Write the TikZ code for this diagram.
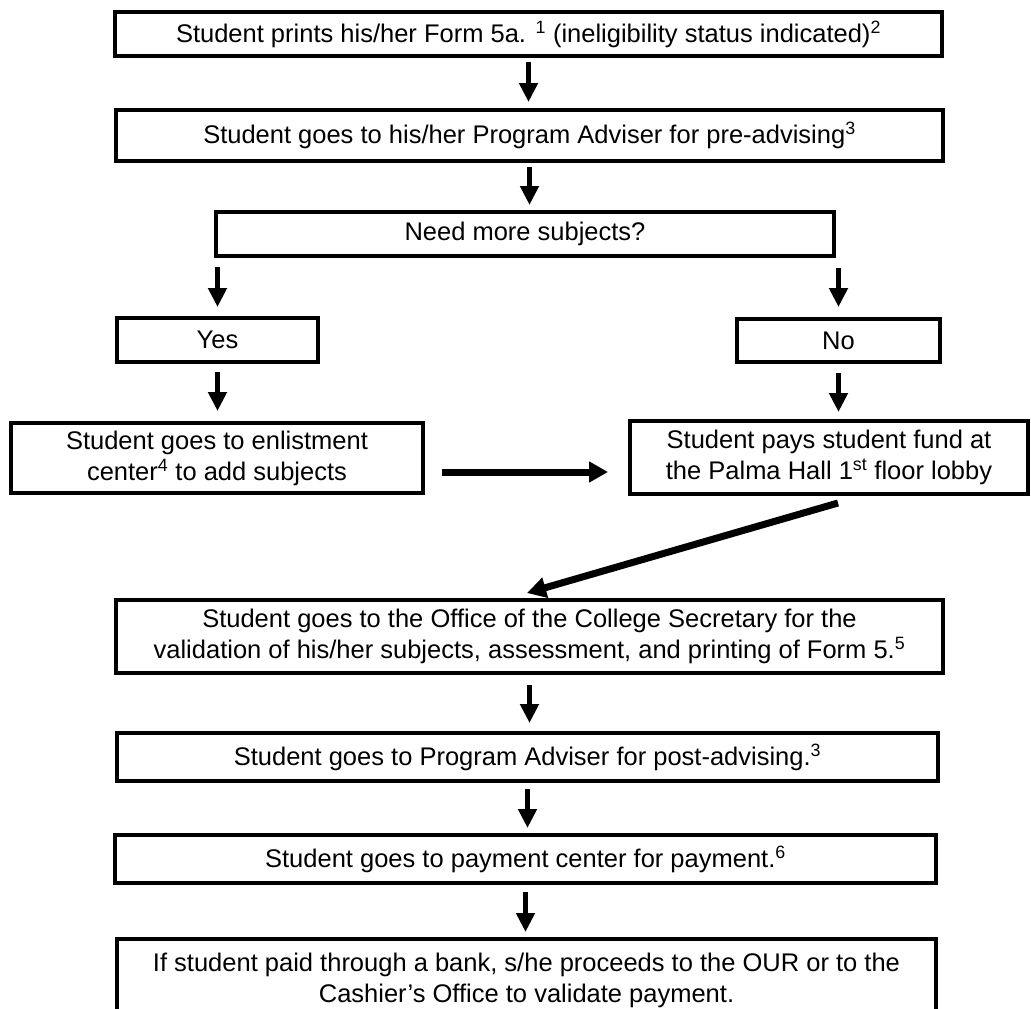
\documentclass[tikz,border=0pt]{standalone}
\usepackage{fontspec}
\setmainfont{Liberation Sans}
\usetikzlibrary{arrows.meta}
\begin{document}
\begin{tikzpicture}[x=1pt,y=-1pt,
  stepbox/.style={draw=black, line width=4pt, inner sep=0pt, align=center,
    font=\fontsize{25.5}{31}\selectfont},
  flow/.style={-{Triangle[length=19pt,width=18pt]}, line width=5pt},
  bigflow/.style={-{Triangle[length=19pt,width=20pt]}, line width=7pt}]
\path[use as bounding box] (0,0) rectangle (1031,1009);
\begin{scope}
\clip (0,0) rectangle (1031,1009);

% process steps
\node[stepbox, minimum width=827pt, minimum height=44pt] (b1) at (528.5,34)
  {Student prints his/her Form 5a. \textsuperscript{1} (ineligibility status indicated)\textsuperscript{2}};
\node[stepbox, minimum width=827pt, minimum height=51pt] (b2) at (529.5,135.5)
  {Student goes to his/her Program Adviser for pre-advising\textsuperscript{3}};
\node[stepbox, minimum width=618pt, minimum height=44pt] (need) at (525,234)
  {Need more subjects?};
\node[stepbox, minimum width=201pt, minimum height=44pt] (yes) at (217.5,340) {Yes};
\node[stepbox, minimum width=203pt, minimum height=43pt] (no) at (838.5,340.5) {No};
\node[stepbox, minimum width=412pt, minimum height=70pt] (enl) at (217,458)
  {Student goes to enlistment\\center\textsuperscript{4} to add subjects};
\node[stepbox, minimum width=398pt, minimum height=73pt] (pays) at (829,457.5)
  {Student pays student fund at\\the Palma Hall 1\textsuperscript{st} floor lobby};
\node[stepbox, minimum width=827pt, minimum height=73pt] (office) at (529.5,636.5)
  {Student goes to the Office of the College Secretary for the\\validation of his/her subjects, assessment, and printing of Form 5.\textsuperscript{5}};
\node[stepbox, minimum width=821pt, minimum height=48pt] (post) at (527.5,757)
  {Student goes to Program Adviser for post-advising.\textsuperscript{3}};
\node[stepbox, minimum width=821pt, minimum height=48pt] (pay) at (525.5,859)
  {Student goes to payment center for payment.\textsuperscript{6}};
\node[stepbox, minimum width=819pt, minimum height=82pt] (last) at (526.5,980)
  {If student paid through a bank, s/he proceeds to the OUR or to the\\Cashier’s Office to validate payment.};

% connectors
\draw[flow, shorten <=4pt, shorten >=6pt] (b1.south) -- (b1.south |- b2.north);
\draw[flow, shorten <=4pt, shorten >=5pt] (b2.south) -- (b2.south |- need.north);
\draw[flow, shorten <=9pt, shorten >=9pt] (need.south -| yes.north) -- (yes.north);
\draw[flow, shorten <=10pt, shorten >=10pt] (need.south -| no.north) -- (no.north);
\draw[flow, shorten <=8pt, shorten >=10pt] (yes.south) -- (yes.south |- enl.north);
\draw[flow, shorten <=9pt, shorten >=7pt] (no.south) -- (no.south |- pays.north);
\draw[bigflow, shorten <=17pt, shorten >=20pt]
  ([yshift=-14pt]enl.east) -- ([yshift=-14pt]enl.east -| pays.west);
\draw[bigflow] ([xshift=9pt,yshift=-7pt]pays.south) -- ([xshift=-2.5pt,yshift=5pt]office.north);
\draw[flow, shorten <=10pt, shorten >=8pt] (office.south) -- (office.south |- post.north);
\draw[flow, shorten <=6pt, shorten >=5pt] (post.south) -- (post.south |- pay.north);
\draw[flow, shorten <=7pt, shorten >=5pt] (pay.south) -- (pay.south |- last.north);
\end{scope}
\end{tikzpicture}
\end{document}
